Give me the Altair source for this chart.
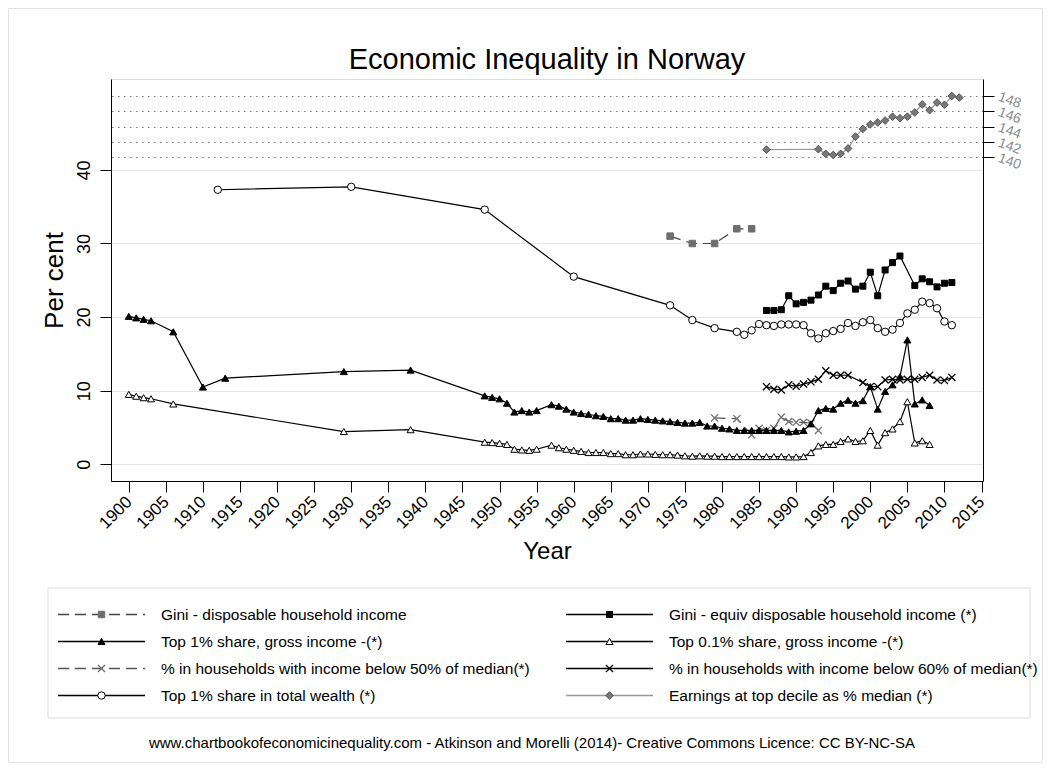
import altair as alt
import pandas as pd

FONT = "Liberation Sans"

# ---------------- data ----------------
gini_disp_years = [1973, 1976, 1979, 1982, 1984]
gini_disp_vals = [31.0, 30.0, 30.0, 32.0, 32.0]

gini_eq_years = [1986, 1987, 1988, 1989, 1990, 1991, 1992, 1993, 1994, 1995, 1996, 1997,
                 1998, 1999, 2000, 2001, 2002, 2003, 2004, 2006, 2007, 2008, 2009, 2010, 2011]
gini_eq_vals = [20.9, 20.9, 21.0, 22.9, 21.8, 22.0, 22.3, 23.0, 24.2, 23.6, 24.6, 24.9,
                23.8, 24.2, 26.1, 22.9, 26.4, 27.4, 28.3, 24.3, 25.2, 24.8, 24.1, 24.6, 24.7]

top1_years = [1900, 1901, 1902, 1903, 1906, 1910, 1913, 1929, 1938,
              1948, 1949, 1950, 1951, 1952, 1953, 1954, 1955,
              1957, 1958, 1959, 1960, 1961, 1962, 1963, 1964, 1965, 1966, 1967, 1968, 1969,
              1970, 1971, 1972, 1973, 1974, 1975, 1976, 1977, 1978, 1979, 1980, 1981, 1982,
              1983, 1984, 1985, 1986, 1987, 1988, 1989, 1990, 1991, 1992, 1993, 1994, 1995,
              1996, 1997, 1998, 1999, 2000, 2001, 2002, 2003, 2004, 2005, 2006, 2007, 2008]
top1_vals = [20.1, 19.9, 19.7, 19.5, 18.0, 10.5, 11.7, 12.6, 12.8,
             9.3, 9.1, 8.9, 8.3, 7.1, 7.3, 7.1, 7.3,
             8.1, 7.9, 7.5, 7.1, 6.9, 6.8, 6.6, 6.5, 6.2, 6.2, 6.0, 6.0, 6.2,
             6.1, 6.0, 5.9, 5.8, 5.7, 5.6, 5.6, 5.7, 5.2, 5.2, 4.9, 4.8, 4.6,
             4.6, 4.6, 4.6, 4.6, 4.6, 4.6, 4.4, 4.5, 4.6, 5.5, 7.3, 7.6, 7.5,
             8.3, 8.7, 8.3, 8.65, 10.55, 7.5, 9.9, 10.8, 11.9, 16.9, 8.2, 8.75, 8.0]

top01_years = [1900, 1901, 1902, 1903, 1906, 1929, 1938,
               1948, 1949, 1950, 1951, 1952, 1953, 1954, 1955,
               1957, 1958, 1959, 1960, 1961, 1962, 1963, 1964, 1965, 1966, 1967, 1968, 1969,
               1970, 1971, 1972, 1973, 1974, 1975, 1976, 1977, 1978, 1979, 1980, 1981, 1982,
               1983, 1984, 1985, 1986, 1987, 1988, 1989, 1990, 1991, 1992, 1993, 1994, 1995,
               1996, 1997, 1998, 1999, 2000, 2001, 2002, 2003, 2004, 2005, 2006, 2007, 2008]
top01_vals = [9.5, 9.25, 9.05, 8.9, 8.2, 4.45, 4.7,
              3.0, 2.95, 2.85, 2.7, 2.05, 1.95, 1.9, 2.05,
              2.6, 2.25, 2.05, 1.9, 1.75, 1.6, 1.6, 1.6, 1.45, 1.45, 1.3, 1.3, 1.4,
              1.4, 1.35, 1.3, 1.3, 1.25, 1.15, 1.1, 1.15, 1.1, 1.1, 1.05, 1.05, 1.05,
              1.05, 1.05, 1.05, 1.05, 1.05, 1.05, 1.0, 1.0, 1.05, 1.6, 2.5, 2.7, 2.7,
              3.1, 3.45, 3.1, 3.2, 4.6, 2.6, 4.3, 4.8, 5.8, 8.5, 2.9, 3.2, 2.7]

pov50_years = [1979, 1982, 1984, 1985, 1986, 1987, 1988, 1989, 1990, 1991, 1992, 1993]
pov50_vals = [6.3, 6.2, 4.0, 4.9, 4.6, 4.9, 6.4, 5.8, 5.7, 5.7, 5.6, 4.6]

pov60_years = [1986, 1987, 1988, 1989, 1990, 1991, 1992, 1993, 1994, 1995, 1996, 1997,
               1999, 2000, 2001, 2002, 2003, 2004, 2005, 2006, 2007, 2008, 2009, 2010, 2011]
pov60_vals = [10.55, 10.2, 10.1, 10.8, 10.6, 10.9, 11.2, 11.55, 12.7, 12.1, 12.1, 12.1,
              11.1, 10.55, 10.55, 11.45, 11.55, 11.45, 11.55, 11.55, 11.8, 12.1, 11.45, 11.4, 11.8]

wealth_years = [1912, 1930, 1948, 1960, 1973, 1976, 1979, 1982, 1983, 1984,
                1985, 1986, 1987, 1988, 1989, 1990, 1991, 1992, 1993, 1994, 1995, 1996,
                1997, 1998, 1999, 2000, 2001, 2002, 2003, 2004, 2005, 2006, 2007, 2008,
                2009, 2010, 2011]
wealth_vals = [37.3, 37.7, 34.6, 25.5, 21.6, 19.6, 18.5, 18.0, 17.6, 18.2,
               19.05, 18.9, 18.8, 19.0, 19.0, 19.0, 18.9, 17.8, 17.1, 17.8, 18.1, 18.4,
               19.2, 18.8, 19.3, 19.6, 18.5, 18.0, 18.3, 19.2, 20.5, 21.0, 22.1, 21.9,
               21.2, 19.4, 18.9]

earn_years = [1986, 1993, 1994, 1995, 1996, 1997, 1998, 1999, 2000, 2001, 2002,
              2003, 2004, 2005, 2006, 2007, 2008, 2009, 2010, 2011, 2012]
earn_vals = [141.0, 141.05, 140.45, 140.3, 140.45, 141.15, 142.7, 143.7, 144.3, 144.55, 144.8,
             145.3, 145.1, 145.3, 145.85, 146.9, 146.15, 147.15, 146.85, 148.0, 147.8]

x_ticks = [1900, 1905, 1910, 1915, 1920, 1925, 1930, 1935, 1940, 1945, 1950, 1955,
           1960, 1965, 1970, 1975, 1980, 1985, 1990, 1995, 2000, 2005, 2010, 2015]
y_ticks = [0, 10, 20, 30, 40]
y2_ticks = [140, 142, 144, 146, 148]

labels = [
    "Gini -  disposable household income",
    "Gini - equiv disposable household income (*)",
    "Top 1% share, gross income -(*)",
    "Top 0.1% share, gross income -(*)",
    "% in households with income below 50% of median(*)",
    "% in households with income below 60% of median(*)",
    "Top 1% share in total wealth (*)",
    "Earnings at top decile as % median (*)",
]

TITLE = "Economic Inequality in Norway"
FOOTER = ("www.chartbookofeconomicinequality.com - Atkinson and Morelli (2014)- "
          "Creative Commons Licence: CC BY-NC-SA")

# ---------------- styles ----------------
XPATH = "M-1,-1L1,1M-1,1L1,-1"
DASH = [11, 6]
STYLES = [
    dict(line="#444444", dash=DASH, shape="square", fill="#6e6e6e", stroke="#6e6e6e", size=42, sw=1),
    dict(line="black", dash=None, shape="square", fill="black", stroke="black", size=36, sw=1),
    dict(line="black", dash=None, shape="triangle-up", fill="black", stroke="black", size=50, sw=1),
    dict(line="black", dash=None, shape="triangle-up", fill="white", stroke="black", size=50, sw=1),
    dict(line="#555555", dash=DASH, shape=XPATH, fill=None, stroke="#6e6e6e", size=50, sw=1.3),
    dict(line="black", dash=None, shape=XPATH, fill=None, stroke="black", size=50, sw=1.3),
    dict(line="black", dash=None, shape="circle", fill="white", stroke="black", size=55, sw=1),
    dict(line="#999999", dash=None, shape="diamond", fill="#777777", stroke="#444444", size=60, sw=0.8),
]

def line_props(st, width=1.2):
    p = dict(color=st["line"], strokeWidth=width)
    if st["dash"]:
        p["strokeDash"] = st["dash"]
    return p

def point_props(st):
    p = dict(shape=st["shape"], size=st["size"], opacity=1, strokeWidth=st["sw"], stroke=st["stroke"])
    if st["fill"] is None:
        p["filled"] = False
    else:
        p["filled"] = True
        p["fill"] = st["fill"]
        p["fillOpacity"] = 1
    return p

# ---------------- plot area ----------------
W, H = 872, 402
XSCALE = alt.Scale(domain=[1897.6, 2015.2], nice=False, zero=False)

X_ENC = alt.X(
    "year:Q", scale=XSCALE,
    axis=alt.Axis(values=x_ticks, title="Year", format="d", labelAngle=-45, labelAlign="right",
                  labelBaseline="middle", labelFontSize=17, titleFontSize=24, tickSize=11,
                  labelPadding=7, titlePadding=8, grid=False, labelOverlap=False,
                  domainColor="black", tickColor="black", labelColor="black", titleColor="black",
                  titleFontWeight="normal", labelFont=FONT, titleFont=FONT),
)
X_ENC_NOAXIS = alt.X("year:Q", scale=XSCALE, axis=None)
Y_ENC = alt.Y(
    "value:Q",
    scale=alt.Scale(domain=[-2.27, 52.35], nice=False, zero=False),
    axis=alt.Axis(values=y_ticks, title="Per cent", labelAngle=-90, labelAlign="center",
                  labelBaseline="bottom", labelFontSize=18, titleFontSize=26, tickSize=11,
                  labelPadding=7, titlePadding=8, grid=True, gridColor="#e6e6e6", gridWidth=1,
                  domainColor="black", tickColor="black", labelColor="black", titleColor="black",
                  titleFontWeight="normal", labelFont=FONT, titleFont=FONT),
)
Y2_ENC = alt.Y(
    "value:Q",
    scale=alt.Scale(domain=[97.74, 150.22], nice=False, zero=False),
    axis=alt.Axis(orient="right", values=y2_ticks, title="", labelAngle=20, labelAlign="left",
                  labelBaseline="middle", labelFontSize=14, tickSize=11, labelPadding=4,
                  labelOverlap=False, grid=True, gridColor="#777777", gridDash=[1.5, 4.5],
                  gridWidth=1, domainColor="black", tickColor="black", labelColor="#8a8a8a",
                  labelFont=FONT),
)

def series_layers(years, vals, st, x_enc, y_enc):
    d = pd.DataFrame({"year": years, "value": vals})
    base = alt.Chart(d)
    ln = base.mark_line(**line_props(st)).encode(x=x_enc, y=y_enc)
    pt = base.mark_point(**point_props(st)).encode(x=x_enc, y=y_enc)
    return [ln, pt]

left_series = [
    (gini_disp_years, gini_disp_vals, STYLES[0]),
    (gini_eq_years, gini_eq_vals, STYLES[1]),
    (wealth_years, wealth_vals, STYLES[6]),
    (pov60_years, pov60_vals, STYLES[5]),
    (pov50_years, pov50_vals, STYLES[4]),
    (top1_years, top1_vals, STYLES[2]),
    (top01_years, top01_vals, STYLES[3]),
]
left_layers = []
for yrs, vls, st in left_series:
    left_layers += series_layers(yrs, vls, st, X_ENC, Y_ENC)
left = alt.layer(*left_layers)
right = alt.layer(*series_layers(earn_years, earn_vals, STYLES[7], X_ENC_NOAXIS, Y2_ENC))

# ---------------- title, legend, footer and outer frame (plot-pixel units) ----------------
LX = alt.Scale(domain=[0, W], nice=False, zero=False)
LY = alt.Scale(domain=[0, H], nice=False, zero=False, reverse=True)
FRAME = dict(x=-102.5, x2=931.5, y=-70.5, y2=683.5)
BOX = dict(x=-63, x2=919, y=509, y2=639)
COL_X = [-53, 455]
LINE_LEN = 87
TEXT_GAP = 103
ROW0, ROW_STEP = 535.5, 27
FOOT_X, FOOT_Y = 421, 664
TITLE_X, TITLE_Y = 436, -19

def rect_layer(r, stroke):
    d = pd.DataFrame({"x": [r["x"]], "x2": [r["x2"]], "y": [r["y"]], "y2": [r["y2"]]})
    return alt.Chart(d).mark_rect(fill="white", fillOpacity=0, stroke=stroke, strokeWidth=1).encode(
        x=alt.X("x:Q", scale=LX, axis=None), x2="x2:Q",
        y=alt.Y("y:Q", scale=LY, axis=None), y2="y2:Q")

def text_layer(x, y, t, size):
    d = pd.DataFrame({"x": [x], "y": [y], "t": [t]})
    return alt.Chart(d).mark_text(align="center", baseline="middle", fontSize=size, font=FONT,
                                  color="black").encode(
        x=alt.X("x:Q", scale=LX, axis=None), y=alt.Y("y:Q", scale=LY, axis=None), text="t:N")

legend_layers = [rect_layer(FRAME, "#e3e3e3"), rect_layer(BOX, "#dcdcdc")]
for i, (lab, st) in enumerate(zip(labels, STYLES)):
    c, r = i % 2, i // 2
    x0 = COL_X[c]
    d = pd.DataFrame({"x": [x0], "x2": [x0 + LINE_LEN], "xm": [x0 + LINE_LEN / 2],
                      "xt": [x0 + TEXT_GAP], "y": [ROW0 + r * ROW_STEP], "label": [lab]})
    b = alt.Chart(d)
    rule = b.mark_rule(**line_props(st, 1.4)).encode(
        x=alt.X("x:Q", scale=LX, axis=None), x2="x2:Q", y=alt.Y("y:Q", scale=LY, axis=None))
    pt = b.mark_point(**point_props(st)).encode(
        x=alt.X("xm:Q", scale=LX, axis=None), y=alt.Y("y:Q", scale=LY, axis=None))
    tx = b.mark_text(align="left", baseline="middle", fontSize=15.5, font=FONT, color="black").encode(
        x=alt.X("xt:Q", scale=LX, axis=None), y=alt.Y("y:Q", scale=LY, axis=None), text="label:N")
    legend_layers += [rule, pt, tx]

legend_layers.append(text_layer(FOOT_X, FOOT_Y, FOOTER, 15))
legend_layers.append(text_layer(TITLE_X, TITLE_Y, TITLE, 29))
legend = alt.layer(*legend_layers)

chart = alt.layer(legend, left, right).resolve_scale(
    x="independent", y="independent"
).properties(
    width=W, height=H,
    padding={"left": 0, "top": 0, "right": 0, "bottom": 0},
).configure_view(strokeWidth=0).configure(font=FONT, background="white")

chart.save("out.html", embed_options={"renderer": "svg", "actions": False})
